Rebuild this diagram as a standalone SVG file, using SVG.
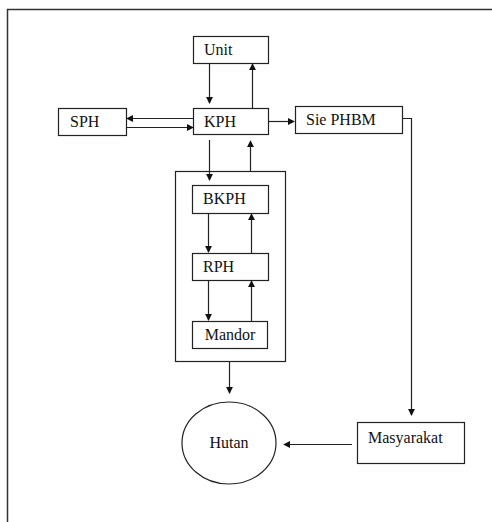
<svg xmlns="http://www.w3.org/2000/svg" width="492" height="522" viewBox="0 0 492 522">
<style>
.box{fill:#fff;stroke:#222;stroke-width:1.2}
.frame{fill:none;stroke:#333;stroke-width:1.5}
text{font-family:'Liberation Serif','Times New Roman','DejaVu Serif',serif;font-size:16px;fill:#111}
.c{fill:none;stroke:#222;stroke-width:1.2}
</style>
<defs>
<marker id="ah" viewBox="0 0 8 8" refX="7" refY="4" markerWidth="7" markerHeight="7" markerUnits="userSpaceOnUse" orient="auto">
<path d="M0,0 L8,4 L0,8 Z" fill="#111"/>
</marker>
</defs>
<rect width="492" height="522" fill="#fff"/>
<path class="frame" d="M7.5,530 V9.5 H500"/>
<g id="container"><rect class="box" x="175.5" y="171.5" width="110" height="190" fill="none"/></g>
<g id="unit"><rect class="box" x="193.5" y="36.5" width="75" height="27"/><text x="204" y="55">Unit</text></g>
<g id="kph"><rect class="box" x="193.5" y="108.5" width="75" height="26"/><text x="204" y="127">KPH</text></g>
<g id="sph"><rect class="box" x="58.5" y="108.5" width="68" height="27"/><text x="70" y="127">SPH</text></g>
<g id="siephbm"><rect class="box" x="295.5" y="106.5" width="107" height="27"/><text x="306" y="125">Sie PHBM</text></g>
<g id="bkph"><rect class="box" x="192.5" y="185.5" width="76" height="28"/><text x="203" y="204">BKPH</text></g>
<g id="rph"><rect class="box" x="192.5" y="253.5" width="76" height="27"/><text x="203" y="272">RPH</text></g>
<g id="mandor"><rect class="box" x="192.5" y="321.5" width="75" height="27"/><text x="230" y="340" text-anchor="middle">Mandor</text></g>
<g id="hutan"><ellipse class="box" cx="229" cy="443" rx="47" ry="41"/><text x="229" y="448" text-anchor="middle">Hutan</text></g>
<g id="masyarakat"><rect class="box" x="357.5" y="422.5" width="107" height="41"/><text x="368" y="443">Masyarakat</text></g>
<g id="connectors">
<path class="c" d="M209.5,64 V103" marker-end="url(#ah)"/>
<path class="c" d="M252.5,108 V64" marker-end="url(#ah)"/>
<path class="c" d="M193,118.5 H127" marker-end="url(#ah)"/>
<path class="c" d="M127,127.5 H193" marker-end="url(#ah)"/>
<path class="c" d="M269,121.5 H294" marker-end="url(#ah)"/>
<path class="c" d="M403,118.5 H411.5 V415" marker-end="url(#ah)"/>
<path class="c" d="M209.5,140 V180" marker-end="url(#ah)"/>
<path class="c" d="M250.5,171 V141" marker-end="url(#ah)"/>
<path class="c" d="M208.5,214 V252" marker-end="url(#ah)"/>
<path class="c" d="M251.5,253 V214" marker-end="url(#ah)"/>
<path class="c" d="M208.5,281 V320" marker-end="url(#ah)"/>
<path class="c" d="M251.5,321 V281" marker-end="url(#ah)"/>
<path class="c" d="M229.5,362 V393" marker-end="url(#ah)"/>
<path class="c" d="M352,444.5 H284" marker-end="url(#ah)"/>
</g>
</svg>
